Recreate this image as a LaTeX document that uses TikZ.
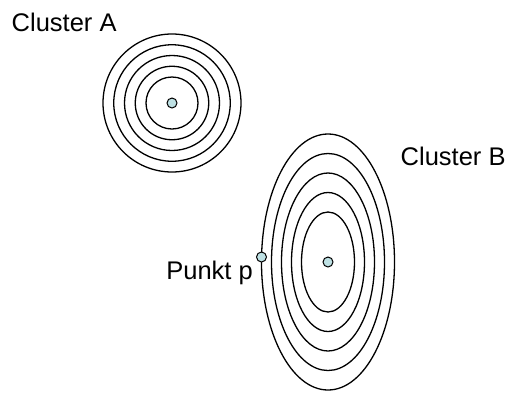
\documentclass[tikz,border=0pt]{standalone}
\usepackage{fontspec}
\setmainfont{Liberation Sans}
\usepackage{xcolor}
\usepackage{tikz}
\usetikzlibrary{positioning}
\definecolor{dotfill}{RGB}{190,225,228}

\begin{document}
\begin{tikzpicture}[x=1pt,y=-1pt,
  ring/.style={draw=black,line width=1.3pt},
  centre/.style={circle,draw=black,line width=1pt,fill=dotfill,inner sep=0pt,minimum size=10pt},
  label/.style={font=\fontsize{25.5}{30}\selectfont,inner sep=0pt}]
\useasboundingbox (0,0) rectangle (507,392);
% cluster A
  \node (ca) [centre] at (172,103) {};
  \foreach \r in {26,36.75,47.5,58.25,69}
    \draw [ring] (ca.center) circle [radius=\r];
  \node (namea) [label,anchor=base west] at (11.5,31) {Cluster A};
% cluster B
  \coordinate (cb) at (328,262);
  \foreach \k in {0,...,4}
    \draw [ring] (cb) ellipse [x radius={26.5+10*\k}, y radius={50+19.5*\k}];
  \node (dotb) [centre] at (cb) {};
  \node (nameb) [label,anchor=base west] at (400.5,165) {Cluster B};
% point p
  \node (p) [centre] at (261.5,257) {};
  \node (namep) [label,anchor=base east] at (253,279) {Punkt p};
\end{tikzpicture}
\end{document}
